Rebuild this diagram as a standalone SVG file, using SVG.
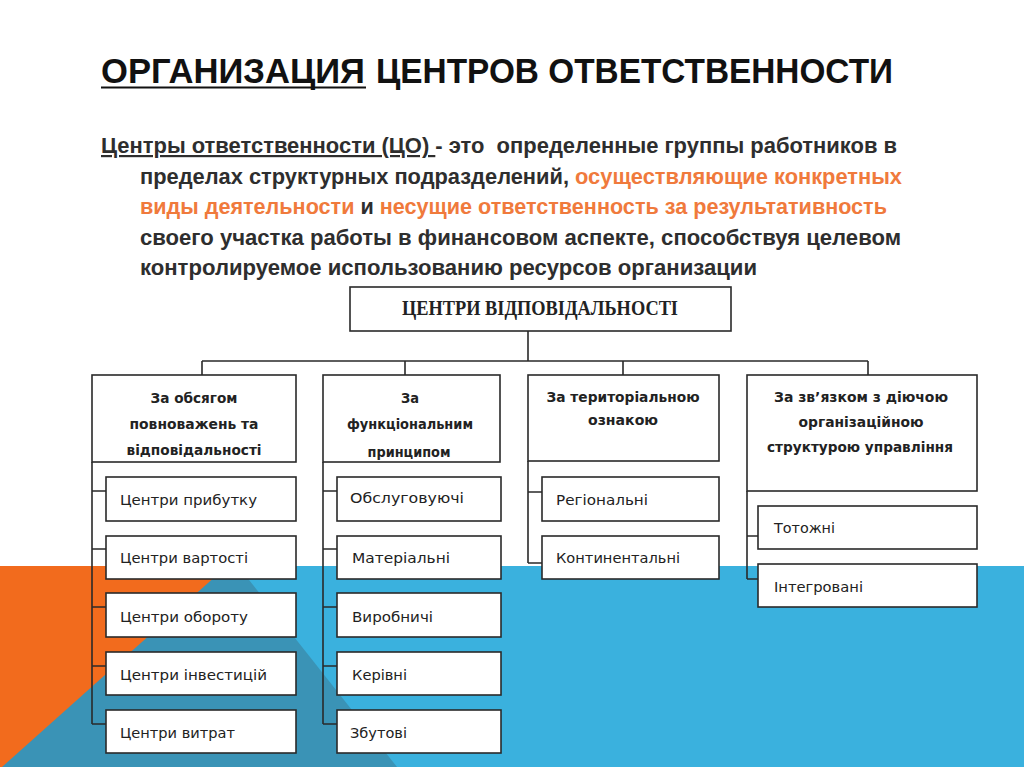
<svg xmlns="http://www.w3.org/2000/svg" width="1024" height="767" viewBox="0 0 1024 767">
<style>
.title{font-family:"Liberation Sans",Arial,sans-serif;font-size:35px;font-weight:bold;fill:#111}
.para{font-family:"Liberation Sans",Arial,sans-serif;font-size:22px;font-weight:bold;fill:#2e2e2e}
.or{fill:#f07a3c}
.box{fill:#fff;stroke:#2a2a2a;stroke-width:1.6}
.con{fill:none;stroke:#2a2a2a;stroke-width:1.6}
.top{font-family:"Liberation Serif","Times New Roman",serif;font-size:20px;font-weight:bold;fill:#222}
.hd{font-family:"DejaVu Sans",Verdana,sans-serif;font-size:13.5px;font-weight:bold;fill:#222;text-anchor:middle}
.it{font-family:"DejaVu Sans",Verdana,sans-serif;font-size:14px;fill:#222}
</style>
<rect width="1024" height="767" fill="#fff"/>
<g id="background">
<rect x="0" y="566" width="1024" height="201" fill="#3ab1de"/>
<polygon points="0,566 238,566 397,767 0,767" fill="#3a93b6"/>
<polygon points="0,566 227,566 2,767 0,767" fill="#f26b1d"/>
</g>
<g id="title">
<text class="title" x="101" y="83" textLength="264" lengthAdjust="spacingAndGlyphs">ОРГАНИЗАЦИЯ</text>
<line x1="101" y1="87.5" x2="366" y2="87.5" stroke="#111" stroke-width="2"/>
<text class="title" x="376" y="83" textLength="517" lengthAdjust="spacingAndGlyphs">ЦЕНТРОВ ОТВЕТСТВЕННОСТИ</text>
</g>
<g id="paragraph">
<text class="para" x="101" y="153" textLength="796" lengthAdjust="spacingAndGlyphs" xml:space="preserve"><tspan text-decoration="underline">Центры ответственности (ЦО) </tspan>- это  определенные группы работников в</text>
<text class="para" x="140" y="184" textLength="762" lengthAdjust="spacingAndGlyphs" xml:space="preserve">пределах структурных подразделений, <tspan class="or">осуществляющие конкретных</tspan></text>
<text class="para" x="140" y="214" textLength="747" lengthAdjust="spacingAndGlyphs" xml:space="preserve"><tspan class="or">виды деятельности</tspan> и <tspan class="or">несущие ответственность за результативность</tspan></text>
<text class="para" x="140" y="245" textLength="761" lengthAdjust="spacingAndGlyphs">своего участка работы в финансовом аспекте, способствуя целевом</text>
<text class="para" x="140" y="275" textLength="617" lengthAdjust="spacingAndGlyphs">контролируемое использованию ресурсов организации</text>
</g>
<g id="connectors">
<path class="con" d="M528,331V361M202,361H868M202,361V375M405,361V375M623,361V375M868,361V375"/>
<path class="con" d="M92,462V724M92,491H106M92,549H106M92,607H106M92,666H106M92,724H106"/>
<path class="con" d="M323,462V724M323,491H337M323,549H337M323,607H337M323,666H337M323,724H337"/>
<path class="con" d="M528,461V563M528,492H542M528,563H542"/>
<path class="con" d="M747,491V579M747,536H758M747,579H758"/>
</g>
<g id="root">
<rect class="box" x="350" y="287" width="381" height="44"/>
<text class="top" x="402" y="315" textLength="276" lengthAdjust="spacingAndGlyphs">ЦЕНТРИ  ВІДПОВІДАЛЬНОСТІ</text>
</g>
<g id="h1">
<rect class="box" x="92" y="375" width="204" height="87"/>
<text class="hd" x="194" y="402.5" textLength="87" lengthAdjust="spacingAndGlyphs">За обсягом</text>
<text class="hd" x="194" y="428.5" textLength="129" lengthAdjust="spacingAndGlyphs">повноважень та</text>
<text class="hd" x="194" y="455" textLength="135" lengthAdjust="spacingAndGlyphs">відповідальності</text>
</g>
<g id="h2">
<rect class="box" x="323" y="375" width="177" height="87"/>
<text class="hd" x="410" y="402.5" textLength="18" lengthAdjust="spacingAndGlyphs">За</text>
<text class="hd" x="410" y="428.5" textLength="126" lengthAdjust="spacingAndGlyphs">функціональним</text>
<text class="hd" x="409" y="456.5" textLength="83" lengthAdjust="spacingAndGlyphs">принципом</text>
</g>
<g id="h3">
<rect class="box" x="528" y="375" width="191" height="86"/>
<text class="hd" x="623" y="401.5" textLength="153" lengthAdjust="spacingAndGlyphs">За територіальною</text>
<text class="hd" x="623" y="425" textLength="70" lengthAdjust="spacingAndGlyphs">ознакою</text>
</g>
<g id="h4">
<rect class="box" x="747" y="375" width="230" height="116"/>
<text class="hd" x="861" y="401.5" textLength="174" lengthAdjust="spacingAndGlyphs">За зв’язком з діючою</text>
<text class="hd" x="861" y="426.5" textLength="125" lengthAdjust="spacingAndGlyphs">організаційною</text>
<text class="hd" x="860" y="451.5" textLength="186" lengthAdjust="spacingAndGlyphs">структурою управління</text>
</g>
<g id="c1-1"><rect class="box" x="106" y="477" width="190" height="44"/><text class="it" x="120" y="505" textLength="137" lengthAdjust="spacingAndGlyphs">Центри прибутку</text></g>
<g id="c1-2"><rect class="box" x="106" y="536" width="190" height="43"/><text class="it" x="120" y="563" textLength="128" lengthAdjust="spacingAndGlyphs">Центри вартості</text></g>
<g id="c1-3"><rect class="box" x="106" y="593" width="190" height="44"/><text class="it" x="120" y="621.5" textLength="128" lengthAdjust="spacingAndGlyphs">Центри обороту</text></g>
<g id="c1-4"><rect class="box" x="106" y="652" width="190" height="43"/><text class="it" x="120" y="680" textLength="147" lengthAdjust="spacingAndGlyphs">Центри інвестицій</text></g>
<g id="c1-5"><rect class="box" x="106" y="710" width="190" height="43"/><text class="it" x="120" y="738" textLength="115" lengthAdjust="spacingAndGlyphs">Центри витрат</text></g>
<g id="c2-1"><rect class="box" x="337" y="477" width="164" height="44"/><text class="it" x="350" y="503" textLength="114" lengthAdjust="spacingAndGlyphs">Обслуговуючі</text></g>
<g id="c2-2"><rect class="box" x="337" y="536" width="164" height="43"/><text class="it" x="352" y="563" textLength="98" lengthAdjust="spacingAndGlyphs">Матеріальні</text></g>
<g id="c2-3"><rect class="box" x="337" y="593" width="164" height="44"/><text class="it" x="352" y="621.5" textLength="81" lengthAdjust="spacingAndGlyphs">Виробничі</text></g>
<g id="c2-4"><rect class="box" x="337" y="652" width="164" height="43"/><text class="it" x="352" y="680" textLength="55" lengthAdjust="spacingAndGlyphs">Керівні</text></g>
<g id="c2-5"><rect class="box" x="337" y="710" width="164" height="43"/><text class="it" x="350" y="738" textLength="57" lengthAdjust="spacingAndGlyphs">Збутові</text></g>
<g id="c3-1"><rect class="box" x="542" y="477" width="177" height="44"/><text class="it" x="556" y="505" textLength="92" lengthAdjust="spacingAndGlyphs">Регіональні</text></g>
<g id="c3-2"><rect class="box" x="542" y="536" width="177" height="43"/><text class="it" x="556" y="563" textLength="124" lengthAdjust="spacingAndGlyphs">Континентальні</text></g>
<g id="c4-1"><rect class="box" x="758" y="506" width="219" height="43"/><text class="it" x="774" y="533" textLength="61" lengthAdjust="spacingAndGlyphs">Тотожні</text></g>
<g id="c4-2"><rect class="box" x="758" y="564" width="219" height="43"/><text class="it" x="774" y="591.5" textLength="89" lengthAdjust="spacingAndGlyphs">Інтегровані</text></g>
</svg>
